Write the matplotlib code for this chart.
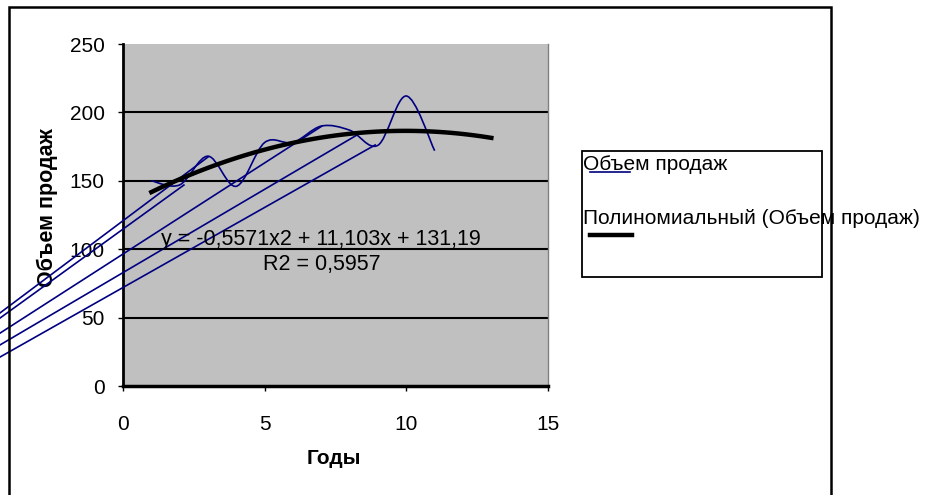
import numpy as np
import matplotlib
matplotlib.use('Agg')
import matplotlib.pyplot as plt
from matplotlib.path import Path
from matplotlib.patches import PathPatch, Rectangle
from matplotlib.lines import Line2D

plt.rcParams['font.family'] = ['Liberation Sans', 'DejaVu Sans']

# --- data ---
years = [1, 2, 3, 4, 5, 6, 7, 8, 9, 10, 11]
sales = [150, 147, 168, 146, 178, 178, 190, 187, 176, 212, 172]

# polynomial trend as printed on the chart, forecast to year 13
trend_coef = [-0.5571, 11.103, 131.19]
trend_range = [1, 13]
eq_text = "y = -0,5571x2 + 11,103x + 131,19"
r2_text = "R2 = 0,5957"

# stray straight segments left by the smoothed-line rendering
art_x0 = [-5.5, -5.5, -5.5, -5.5, -5.5]
art_y0 = [35.4, 32.3, 23.2, 15.9, 7.6]
art_x1 = [3.0, 2.15, 7.02, 8.26, 8.9]
art_y1 = [167.4, 146.9, 190.0, 183.5, 176.2]

y_ticks = [0, 50, 100, 150, 200, 250]
x_ticks = [0, 5, 10, 15]
grid_vals = [50, 100, 150, 200]

NAVY = '#000080'
W, H = 929, 495


def fx(px):
    return px / W


def fy(py):
    return 1 - py / H


def smooth_path(xs, ys):
    """Excel-style smoothed line as cubic Bezier segments."""
    p = np.column_stack([xs, ys]).astype(float)
    n = len(p)
    verts = [p[0]]
    codes = [Path.MOVETO]
    for i in range(n - 1):
        p0 = p[i - 1] if i > 0 else p[i]
        p3 = p[i + 2] if i + 2 < n else p[i + 1]
        c1 = p[i] + (p[i + 1] - p0) / 6
        c2 = p[i + 1] - (p3 - p[i]) / 6
        verts += [c1, c2, p[i + 1]]
        codes += [Path.CURVE4] * 3
    return Path(verts, codes)


fig = plt.figure(figsize=(W / 100, H / 100), dpi=100)
ax = fig.add_axes([fx(123), fy(386), fx(425), 342 / H])
ax.set_facecolor('#C0C0C0')

for g in grid_vals:
    ax.axhline(g, color='black', lw=1.5, zorder=1)

# blue smoothed series
ax.add_patch(PathPatch(smooth_path(years, sales), fill=False,
                       edgecolor=NAVY, lw=1.2, zorder=3))
for a, b, c, d in zip(art_x0, art_y0, art_x1, art_y1):
    ax.plot([a, c], [b, d], color=NAVY, lw=1.2, clip_on=False, zorder=3)

# polynomial trend line
tx = np.linspace(trend_range[0], trend_range[1], 60)
ax.plot(tx, np.polyval(trend_coef, tx), color='black', lw=3.2, zorder=4)

ax.text(7.0, 107, eq_text, ha='center', va='center', fontsize=15.5, zorder=5)
ax.text(7.0, 89, r2_text, ha='center', va='center', fontsize=15.5, zorder=5)

ax.set_xlim(0, 15)
ax.set_ylim(0, 250)
ax.set_xticks(x_ticks)
ax.set_yticks(y_ticks)
ax.tick_params(axis='y', direction='out', length=3.6, width=1, pad=9.5,
               labelsize=15)
ax.tick_params(axis='x', direction='out', length=3.6, width=1, pad=17,
               labelsize=15)

ax.spines['top'].set_visible(False)
ax.spines['right'].set_color('#808080')
ax.spines['right'].set_linewidth(1)
ax.spines['left'].set_linewidth(2)
ax.spines['bottom'].set_linewidth(2.5)

ax.set_ylabel('Объем продаж', fontsize=15.5, fontweight='bold')
ax.yaxis.set_label_coords((58 - 123) / 425, (386 - 208) / 342)
ax.set_xlabel('Годы', fontsize=15, fontweight='bold')
ax.xaxis.set_label_coords((334 - 123) / 425, -(449 - 386) / 342)

# chart frame
fig.add_artist(Rectangle((fx(9), -0.05), fx(822), fy(7) + 0.05,
                         transform=fig.transFigure, fill=False,
                         edgecolor='black', lw=1.8))

# legend (drawn by hand, entries overlap as in the source)
fig.add_artist(Rectangle((fx(582), fy(277)), fx(240), 126 / H,
                         transform=fig.transFigure, fill=False,
                         edgecolor='black', lw=1.3))
fig.text(fx(583), fy(164), 'Объем продаж', ha='left', va='center',
         fontsize=15)
fig.add_artist(Line2D([fx(590), fx(630)], [fy(172), fy(172)],
                      transform=fig.transFigure, color=NAVY, lw=1.2))
fig.text(fx(583), fy(218), 'Полиномиальный (Объем продаж)', ha='left',
         va='center', fontsize=15)
fig.add_artist(Line2D([fx(590), fx(632)], [fy(235), fy(235)],
                      transform=fig.transFigure, color='black', lw=3.2))

fig.savefig('out.png', dpi=100)
